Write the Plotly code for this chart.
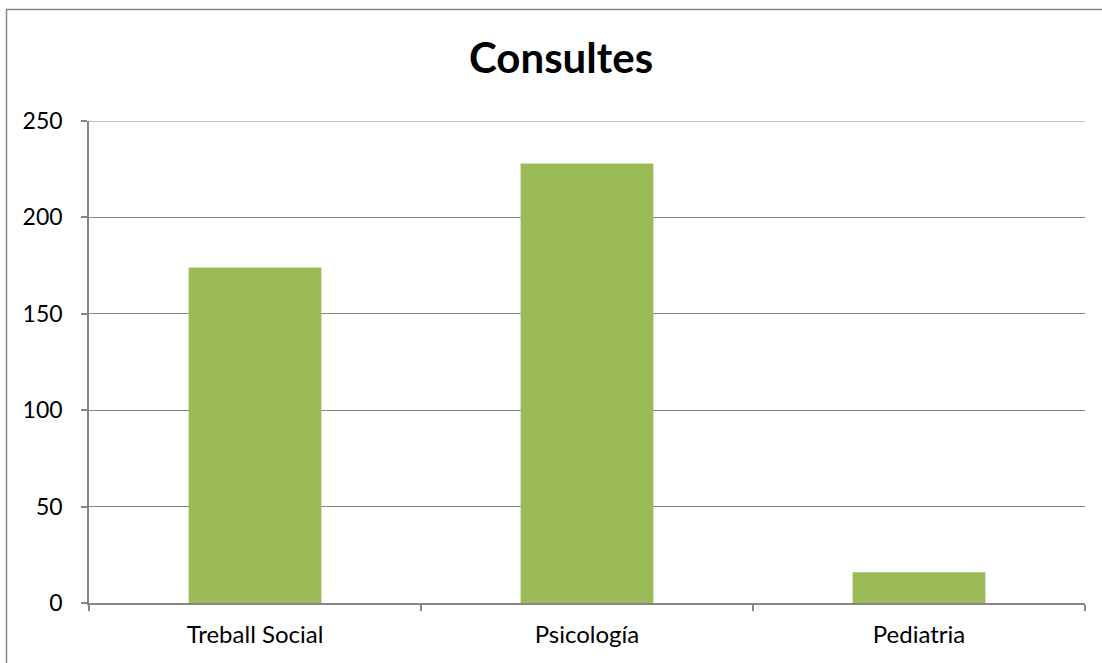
import plotly.graph_objects as go

categories = ["Treball Social", "Psicología", "Pediatria"]
values = [174, 228, 16]
y_ticks = [0, 50, 100, 150, 200, 250]
title_text = "Consultes"

W, H = 1102, 663
L, R, T, B = 89, 17, 121, 60
pw = W - L - R
ph = H - T - B

def px_x(p):
    return (p - L) / pw

def px_y(p):
    return (H - B - p) / ph

FONT = "Lato"
GRID = "#868686"

fig = go.Figure(go.Bar(
    x=categories, y=values, width=0.4,
    marker=dict(color="#9BBB59", line=dict(width=0)),
    hoverinfo="skip",
))

fig.update_layout(
    width=W, height=H,
    margin=dict(l=L, r=R, t=T, b=B),
    paper_bgcolor="white", plot_bgcolor="white",
    showlegend=False,
    font=dict(family=FONT, size=22, color="black"),
    xaxis=dict(
        type="category", tickson="boundaries",
        showline=True, linecolor=GRID, linewidth=1.5,
        ticks="outside", ticklen=6, tickcolor=GRID, tickwidth=1.5,
        showgrid=False, zeroline=False,
        tickfont=dict(family=FONT, size=24, color="black"),
        ticklabelstandoff=9,
        range=[-0.5, 2.5],
    ),
    yaxis=dict(
        range=[0, 250], tickvals=y_ticks,
        showline=True, linecolor=GRID, linewidth=1.5,
        ticks="outside", ticklen=6, tickcolor=GRID, tickwidth=1.5,
        showgrid=True, gridcolor=GRID, gridwidth=1.2,
        zeroline=False,
        tickfont=dict(family=FONT, size=23, color="black"),
        ticklabelstandoff=14,
    ),
    annotations=[dict(
        text="<b>" + title_text + "</b>",
        xref="paper", yref="paper",
        x=px_x(561), y=px_y(57),
        xanchor="center", yanchor="middle",
        showarrow=False,
        font=dict(family=FONT, size=42, color="black"),
    )],
    shapes=[
        dict(
            type="rect", xref="paper", yref="paper",
            x0=px_x(6.5), x1=px_x(1130), y0=px_y(690), y1=px_y(9.5),
            line=dict(color=GRID, width=1.5), fillcolor="rgba(0,0,0,0)",
            layer="below",
        ),
        dict(
            type="line", xref="paper", yref="y",
            x0=0, x1=1, y0=y_ticks[-1], y1=y_ticks[-1],
            line=dict(color=GRID, width=1.2),
            layer="below",
        ),
    ],
)

fig.write_html(
    "out.html",
    config={"displayModeBar": False},
    post_script="document.body.style.margin='0';document.body.style.overflow='hidden';",
)
